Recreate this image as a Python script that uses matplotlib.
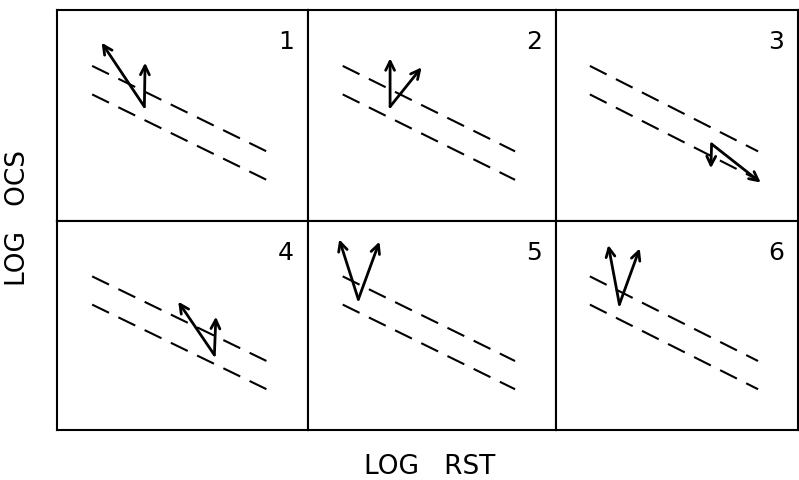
import matplotlib
matplotlib.use("Agg")
import matplotlib.pyplot as plt

# panel numbers, laid out left-to-right, top-to-bottom
panel_labels = ["1", "2", "3", "4", "5", "6"]

# the two dashed reference lines (same in every panel), log RST vs log OCS units
line_x = [1.4, 8.35]
upper_y = [7.35, 3.3]
lower_y = [6.0, 1.95]

# start point shared by the two arrows in each panel
vertex_x = [3.48, 3.31, 6.43, 6.27, 2.03, 2.62]
vertex_y = [5.42, 5.42, 3.65, 3.59, 6.25, 6.01]

# arrow heads
tip1_x = [1.78, 3.31, 6.40, 4.83, 1.26, 2.16]
tip1_y = [8.45, 7.71, 2.50, 6.14, 9.12, 8.85]
tip2_x = [3.51, 4.58, 8.46, 6.33, 2.88, 3.46]
tip2_y = [7.50, 7.28, 1.82, 5.42, 9.01, 8.69]

fig = plt.figure(figsize=(7.99, 4.8), dpi=100)

W, H = 799.0, 480.0
col_edges = [57, 308, 556, 798]
row_edges = [10, 221, 430]

for i, lab in enumerate(panel_labels):
    r, c = divmod(i, 3)
    x0, x1 = col_edges[c], col_edges[c + 1]
    y0, y1 = row_edges[r], row_edges[r + 1]
    ax = fig.add_axes([x0 / W, 1 - y1 / H, (x1 - x0) / W, (y1 - y0) / H])
    ax.set_xlim(0, 10)
    ax.set_ylim(0, 10)
    ax.set_xticks([])
    ax.set_yticks([])
    for s in ax.spines.values():
        s.set_linewidth(1.5)
        s.set_color("black")

    ax.plot(line_x, upper_y, color="black", lw=1.5, ls=(0, (9, 5)))
    ax.plot(line_x, lower_y, color="black", lw=1.5, ls=(0, (9, 5)))

    for tx, ty in ((tip1_x[i], tip1_y[i]), (tip2_x[i], tip2_y[i])):
        ax.annotate("", xy=(tx, ty), xytext=(vertex_x[i], vertex_y[i]),
                    arrowprops=dict(arrowstyle="->", lw=2.0, color="black",
                                    shrinkA=0, shrinkB=0, mutation_scale=16))

    ax.text(0.944, 0.814, lab, transform=ax.transAxes, ha="right",
            va="baseline", fontsize=18, color="black")

fig.text(430 / W, 1 - 467 / H, "LOG   RST", ha="center", va="center",
         fontsize=19)
fig.text(18 / W, 1 - 218 / H, "LOG   OCS", ha="center", va="center",
         fontsize=19, rotation=90)

fig.savefig("out.png", dpi=100)
